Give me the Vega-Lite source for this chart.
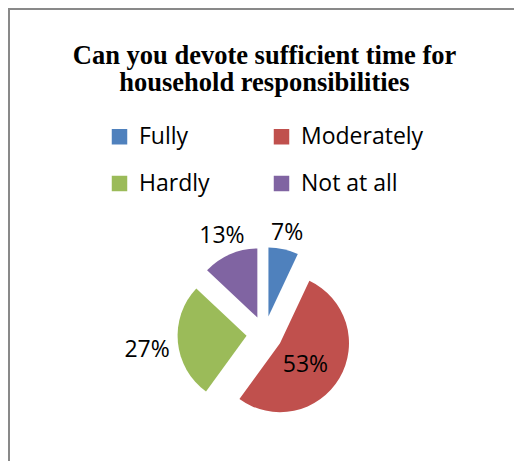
{
  "$schema": "https://vega.github.io/schema/vega-lite/v6.json",
  "width": 511,
  "height": 650,
  "autosize": {"type": "none"},
  "padding": {"left": 9, "top": 9, "right": -6, "bottom": -198},
  "background": "white",
  "view": {"stroke": "#898989", "strokeWidth": 2, "fill": "white"},
  "config": {
    "view": {"stroke": "#898989", "strokeWidth": 2},
    "style": {"cell": {"stroke": "#898989", "strokeWidth": 2}}
  },
  "title": {
    "text": ["Can you devote sufficient time for", "household responsibilities"],
    "font": "Liberation Serif",
    "fontSize": 26.5,
    "fontWeight": "bold",
    "color": "black",
    "anchor": "middle",
    "lineHeight": 27,
    "offset": -87
  },
  "data": {
    "values": [
      {"category": "Fully", "value": 7, "label": "7%"},
      {"category": "Moderately", "value": 53, "label": "53%"},
      {"category": "Hardly", "value": 27, "label": "27%"},
      {"category": "Not at all", "value": 13, "label": "13%"}
    ]
  },
  "transform": [{"window": [{"op": "row_number", "as": "idx"}]}],
  "encoding": {
    "theta": {"field": "value", "type": "quantitative", "stack": true},
    "order": {"field": "idx", "type": "quantitative"}
  },
  "layer": [
    {
      "mark": {
        "type": "arc",
        "radius": 69,
        "xOffset": {"expr": "18*sin(PI*(datum.value_start+datum.value_end)/100)"},
        "yOffset": {"expr": "-18*cos(PI*(datum.value_start+datum.value_end)/100)"}
      },
      "encoding": {
        "color": {
          "field": "category",
          "type": "nominal",
          "scale": {
            "domain": ["Fully", "Moderately", "Hardly", "Not at all"],
            "range": ["#4F81BD", "#C0504D", "#9BBB59", "#8064A2"]
          },
          "legend": {
            "title": null,
            "orient": "none",
            "legendX": 99,
            "legendY": 116,
            "columns": 2,
            "direction": "horizontal",
            "symbolType": "square",
            "symbolSize": 240,
            "symbolStrokeWidth": 0,
            "labelFont": "Open Sans",
            "labelFontSize": 23,
            "labelColor": "black",
            "labelOffset": 8,
            "columnPadding": 60,
            "rowPadding": 23,
            "padding": 0
          }
        }
      }
    },
    {
      "mark": {
        "type": "text",
        "font": "Open Sans",
        "fontSize": 23,
        "fill": "black",
        "radius": {"expr": "datum.value > 50 ? 51 : 100 + 18*abs(sin(PI*(datum.value_start+datum.value_end)/100))"},
        "dx": {"expr": "datum.value > 50 ? -3 : 0"},
        "dy": {"expr": "datum.value > 20 ? 5 : 0"}
      },
      "encoding": {
        "detail": {"field": "category", "type": "nominal"},
        "text": {"field": "label", "type": "nominal"}
      }
    }
  ]
}
